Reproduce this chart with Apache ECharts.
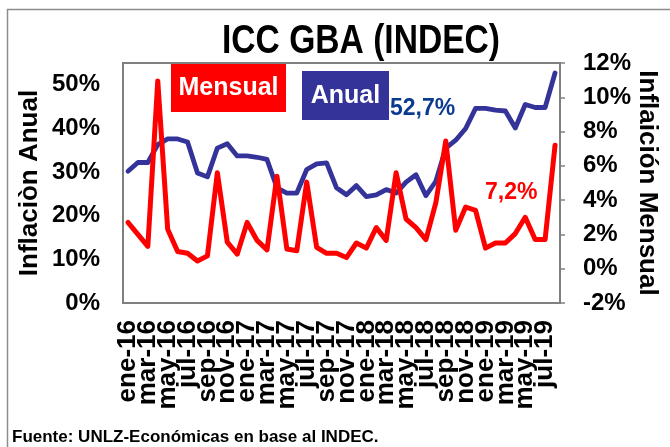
<!DOCTYPE html>
<html>
<head>
<meta charset="utf-8">
<script src="https://cdn.jsdelivr.net/npm/echarts@6/dist/echarts.min.js"></script>
<style>
  html, body { margin: 0; padding: 0; background: #fff; }
  #chart { width: 670px; height: 447px; }
</style>
</head>
<body>
<div id="chart"></div>
<script>
const categories = [
  'ene-16','feb-16','mar-16','abr-16','may-16','jun-16','jul-16','ago-16','sep-16','oct-16','nov-16','dic-16',
  'ene-17','feb-17','mar-17','abr-17','may-17','jun-17','jul-17','ago-17','sep-17','oct-17','nov-17','dic-17',
  'ene-18','feb-18','mar-18','abr-18','may-18','jun-18','jul-18','ago-18','sep-18','oct-18','nov-18','dic-18',
  'ene-19','feb-19','mar-19','abr-19','may-19','jun-19','jul-19','ago-19'
];
// Inflación anual (%), eje izquierdo
const anual = [
  30.2, 32.2, 32.2, 36.3, 37.6, 37.6, 36.9, 29.8, 28.9, 35.5, 36.5, 33.7,
  33.7, 33.4, 32.9, 26.4, 25.2, 25.2, 30.6, 31.9, 32.1, 26.4, 24.8, 26.9,
  24.4, 24.8, 26.0, 25.2, 27.7, 29.4, 24.6, 27.9, 35.5, 37.3, 40.0, 44.6,
  44.6, 44.2, 44.0, 40.1, 45.5, 44.8, 44.8, 52.7
];
// Inflación mensual (%), eje derecho
const mensual = [
  2.7, 2.0, 1.3, 10.95, 2.3, 1.0, 0.9, 0.45, 0.75, 5.6, 1.55, 0.85,
  2.7, 1.65, 1.1, 5.4, 1.15, 1.05, 5.05, 1.25, 0.9, 0.9, 0.65, 1.5,
  1.2, 2.4, 1.65, 5.6, 2.9, 2.4, 1.7, 3.85, 7.45, 2.25, 3.6, 3.4,
  1.2, 1.5, 1.5, 2.05, 3.0, 1.7, 1.7, 7.2
];
const leftTicks = { min: 0, max: 55, interval: 10 };
const rightTicks = { min: -2, max: 12, interval: 2 };

const FONT = '"Liberation Sans", Arial, sans-serif';
const fmt = v => String(v).replace('.', ',') + '%';

const chart = echarts.init(document.getElementById('chart'), null, { renderer: 'canvas' });
chart.setOption({
  animation: false,
  backgroundColor: '#ffffff',
  textStyle: { fontFamily: FONT },
  grid: {
    left: 123, top: 63, width: 437, height: 240,
    show: true, borderColor: '#808080', borderWidth: 2, backgroundColor: '#ffffff'
  },
  xAxis: {
    type: 'category',
    data: categories,
    boundaryGap: true,
    axisLine: { show: false },
    axisTick: { show: false },
    splitLine: { show: false },
    axisLabel: {
      interval: 0, rotate: 90, margin: 17, hideOverlap: false,
      fontSize: 26, fontWeight: 'bold', color: '#000', fontFamily: FONT,
      formatter: (v, i) => (i % 2 === 0 ? v : '')
    }
  },
  yAxis: [
    {
      type: 'value', position: 'left',
      min: leftTicks.min, max: leftTicks.max, interval: leftTicks.interval,
      name: 'Inflaciòn Anual', nameLocation: 'middle', nameGap: 80, nameMoveOverlap: false,
      nameTextStyle: { fontSize: 26, fontWeight: 'bold', color: '#000', fontFamily: FONT },
      axisLine: { show: false }, axisTick: { show: false }, splitLine: { show: false },
      axisLabel: {
        margin: 23, fontSize: 24, fontWeight: 'bold', color: '#000', fontFamily: FONT,
        formatter: v => (v > 50 ? '' : v + '%')
      }
    },
    {
      type: 'value', position: 'right',
      min: rightTicks.min, max: rightTicks.max, interval: rightTicks.interval,
      name: 'Inflaición Mensual', nameLocation: 'middle', nameGap: 74, nameRotate: -90, nameMoveOverlap: false,
      nameTextStyle: { fontSize: 26, fontWeight: 'bold', color: '#000', fontFamily: FONT },
      axisLine: { show: true, lineStyle: { color: '#808080', width: 2 } },
      axisTick: { show: true, inside: false, length: 5, lineStyle: { color: '#808080', width: 1.5 } },
      splitLine: { show: false },
      axisLabel: {
        margin: 23, fontSize: 24, fontWeight: 'bold', color: '#000', fontFamily: FONT,
        formatter: v => v + '%'
      }
    }
  ],
  series: [
    {
      name: 'Anual', type: 'line', yAxisIndex: 0, data: anual,
      showSymbol: false, symbol: 'none', z: 2,
      lineStyle: { color: '#333399', width: 4.8, cap: 'round', join: 'round' }
    },
    {
      name: 'Mensual', type: 'line', yAxisIndex: 1, data: mensual,
      showSymbol: false, symbol: 'none', z: 3,
      lineStyle: { color: '#ff0000', width: 5, cap: 'round', join: 'round' }
    }
  ],
  graphic: [
    { type: 'rect', shape: { x: 7.5, y: 9.5, width: 700, height: 500 },
      style: { fill: 'none', stroke: '#8c8c8c', lineWidth: 1.5 }, z: 0 },
    { type: 'text', x: 361, y: 42, scaleX: 0.84, z: 10,
      style: { text: 'ICC GBA (INDEC)', x: 0, y: 0, fill: '#000',
        font: 'bold 40px ' + FONT, textAlign: 'center', textVerticalAlign: 'middle',
        align: 'center', verticalAlign: 'middle' } },
    { type: 'rect', shape: { x: 171, y: 64, width: 115, height: 48 },
      style: { fill: '#ff0000' }, z: 10 },
    { type: 'text', x: 228.5, y: 88, z: 11,
      style: { text: 'Mensual', x: 0, y: 0, fill: '#fff', font: 'bold 25px ' + FONT,
        textAlign: 'center', textVerticalAlign: 'middle', align: 'center', verticalAlign: 'middle' } },
    { type: 'rect', shape: { x: 302, y: 71, width: 87, height: 49 },
      style: { fill: '#333399' }, z: 10 },
    { type: 'text', x: 345.5, y: 96, z: 11,
      style: { text: 'Anual', x: 0, y: 0, fill: '#fff', font: 'bold 25px ' + FONT,
        textAlign: 'center', textVerticalAlign: 'middle', align: 'center', verticalAlign: 'middle' } },
    { type: 'text', x: 390, y: 109, z: 11,
      style: { text: fmt(anual[anual.length - 1]), x: 0, y: 0, fill: '#0b3b91', font: 'bold 23px ' + FONT,
        textAlign: 'left', textVerticalAlign: 'middle', align: 'left', verticalAlign: 'middle' } },
    { type: 'text', x: 485, y: 193, z: 11,
      style: { text: fmt(mensual[mensual.length - 1]), x: 0, y: 0, fill: '#ff0000', font: 'bold 23px ' + FONT,
        textAlign: 'left', textVerticalAlign: 'middle', align: 'left', verticalAlign: 'middle' } },
    { type: 'text', x: 12, y: 437, z: 11,
      style: { text: 'Fuente: UNLZ-Económicas en base al INDEC.', x: 0, y: 0, fill: '#000',
        font: 'bold 17px ' + FONT, textAlign: 'left', textVerticalAlign: 'middle',
        align: 'left', verticalAlign: 'middle' } }
  ]
});
</script>
</body>
</html>
